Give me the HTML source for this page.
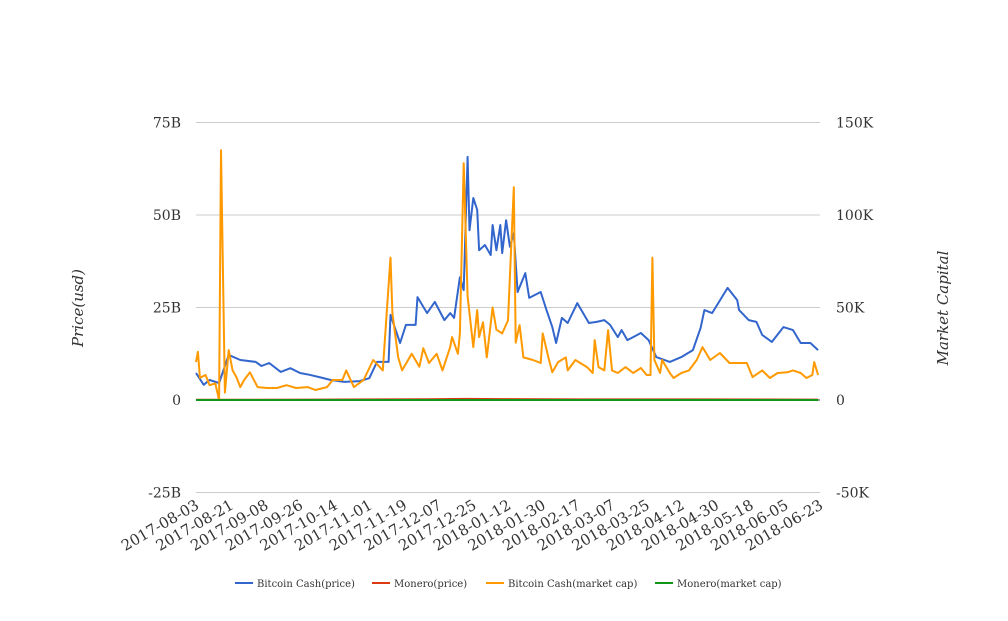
<!DOCTYPE html>
<html><head><meta charset="utf-8"><style>
body{margin:0;background:#fff;}
svg text{font-family:"DejaVu Serif","Liberation Serif",serif;fill:#333;}
</style></head><body>
<svg id="chart" width="1008" height="616" xmlns="http://www.w3.org/2000/svg">
<g id="grid"></g>
<g id="ylabels"></g>
<g id="y2labels"></g>
<g id="xlabels"></g>
<g id="series"></g>
<text transform="translate(83,308) rotate(-90)" text-anchor="middle" font-size="15" font-style="italic">Price(usd)</text>
<text transform="translate(948,308) rotate(-90)" text-anchor="middle" font-size="15" font-style="italic">Market Capital</text>
<g id="legend"></g>
</svg>
<script>
const xTicks=["2017-08-03","2017-08-21","2017-09-08","2017-09-26","2017-10-14","2017-11-01","2017-11-19","2017-12-07","2017-12-25","2018-01-12","2018-01-30","2018-02-17","2018-03-07","2018-03-25","2018-04-12","2018-04-30","2018-05-18","2018-06-05","2018-06-23"];
const yTicks=[-25,0,25,50,75];
const yTickLabels=["-25B","0","25B","50B","75B"];
const y2Ticks=[-50,0,50,100,150];
const y2TickLabels=["-50K","0","50K","100K","150K"];
const bchPriceDays=[0,4,7,12,17,23,31,34,38,44,49,54,59,64,70,77,85,90,94,100,101,106,109,114,115,120,124,129,132,134,137,139,141,142,144,146,147,150,153,154,156,158,159,161,163,165,167,171,173,179,182,185,187,190,193,198,204,208,212,215,219,221,224,231,235,239,246,252,258,262,264,268,276,281,282,287,291,294,299,305,310,314,319,323];
const bchPrice=[7.3,4.1,5.4,4.6,12.2,10.8,10.3,9.2,10.0,7.6,8.6,7.3,6.8,6.2,5.4,4.9,5.1,5.9,10.3,10.3,23.0,15.4,20.3,20.3,27.8,23.5,26.5,21.6,23.5,22.2,33.2,29.7,65.7,45.9,54.6,51.4,40.5,41.9,39.2,47.3,40.5,47.3,39.7,48.6,41.4,45.1,29.2,34.3,27.6,29.2,24.3,19.7,15.4,22.2,20.8,26.2,20.8,21.1,21.6,20.3,17.0,18.9,16.2,18.1,16.2,11.6,10.3,11.6,13.5,19.5,24.3,23.5,30.3,27.0,24.3,21.6,21.1,17.6,15.7,19.7,18.9,15.4,15.4,13.5];
const bchCapDays=[0,1,2,5,7,10,12,13,15,17,19,21,23,25,28,32,37,42,47,52,58,62,68,71,76,78,82,87,92,97,99,101,102,105,107,112,116,118,121,125,128,132,133,136,137,139,141,144,146,147,149,151,154,156,159,162,165,166,168,170,175,179,180,183,185,188,192,193,197,203,206,207,209,212,214,216,219,223,227,231,234,236,237,238,241,242,246,248,252,256,260,263,267,272,277,282,286,289,294,298,302,307,310,314,317,320,321,323];
const bchCap=[20.5,26,12,13.5,8,9,0,135,4,27,16,12.4,7,10.8,15,7,6.5,6.5,8,6.5,7,5.4,7,10.8,10.8,16,7,10.8,21.6,16,47,77,47,23,16,25,18,28,20,25,16,28.6,34,25,36,128,56,28.6,48.6,34,42,23,50,38,36,43,115,31,40.5,23,21.6,20,36,23,15,20.5,23,16,21.6,17.8,14.6,32.4,17.8,16,37.8,16,14.6,17.8,14.6,17.3,13.5,13.5,77,21.6,14.6,21.6,14.6,11.9,14.6,16,21.6,28.6,21.6,25.4,20,20,20,12.4,16,11.9,14.6,15,16,14.6,11.9,13.5,20.5,13.5];
const xmrPriceDays=[0,60,120,140,160,200,260,323];
const xmrPrice=[0.05,0.1,0.2,0.3,0.25,0.15,0.15,0.1];
const xmrCapDays=[0,323];
const xmrCap=[0,0];

const X0=196,X1=820,totalDays=324;
const x=d=>X0+d*(X1-X0)/totalDays;
const y=v=>400-v*92.5/25;
const y2=v=>400-v*92.5/50;
const NS="http://www.w3.org/2000/svg";
function mk(tag,parent){const e=document.createElementNS(NS,tag);document.getElementById(parent).appendChild(e);return e;}
yTicks.forEach((t,i)=>{
  const l=mk('line','grid');
  
  
  l.setAttribute('x1',X0);l.setAttribute('x2',X1);l.setAttribute('y1',y(t));l.setAttribute('y2',y(t));
  l.setAttribute('stroke',t===0?'#333':'#ccc');l.setAttribute('stroke-width',1);
  const tx=mk('text','ylabels');
  
  
  tx.setAttribute('x',181);tx.setAttribute('y',y(t)+5);tx.setAttribute('text-anchor','end');tx.setAttribute('font-size','14');
  tx.textContent=yTickLabels[i];
});
y2Ticks.forEach((t,i)=>{
  const tx=mk('text','y2labels');
  
  
  tx.setAttribute('x',836);tx.setAttribute('y',y2(t)+5);tx.setAttribute('font-size','14');
  tx.textContent=y2TickLabels[i];
});
xTicks.forEach((t,i)=>{
  const px=X0+i*(X1-X0)/(xTicks.length-1);
  const tx=mk('text','xlabels');
  
  
  tx.setAttribute('transform','translate('+(px+4)+',508) rotate(-30)');
  tx.setAttribute('text-anchor','end');tx.setAttribute('font-size','15');
  tx.textContent=t;
});
function line(days,vals,sc,color,name){
  const p=mk('polyline','series');
  
  
  p.setAttribute('points',days.map((d,i)=>x(d).toFixed(1)+','+sc(vals[i]).toFixed(1)).join(' '));
  p.setAttribute('fill','none');p.setAttribute('stroke',color);p.setAttribute('stroke-width',2);p.setAttribute('stroke-linejoin','round');
}
line(bchPriceDays,bchPrice,y,'#3366cc','bch-price-line');
line(xmrPriceDays,xmrPrice,y,'#dc3912','xmr-price-line');
line(bchCapDays,bchCap,y2,'#ff9900','bch-cap-line');
line(xmrCapDays,xmrCap,y2,'#109618','xmr-cap-line');
const legendNames=["Bitcoin Cash(price)","Monero(price)","Bitcoin Cash(market cap)","Monero(market cap)"];
const legendColors=['#3366cc','#dc3912','#ff9900','#109618'];
const legendX=[235,372,486,655];
legendNames.forEach((n,i)=>{
  const l=mk('line','legend');
  
  
  l.setAttribute('x1',legendX[i]);l.setAttribute('x2',legendX[i]+18);l.setAttribute('y1',583);l.setAttribute('y2',583);
  l.setAttribute('stroke',legendColors[i]);l.setAttribute('stroke-width',2);
  const t=mk('text','legend');
  
  
  t.setAttribute('x',legendX[i]+22);t.setAttribute('y',587);t.setAttribute('font-size','10');
  t.textContent=n;
});
</script>
</body></html>
